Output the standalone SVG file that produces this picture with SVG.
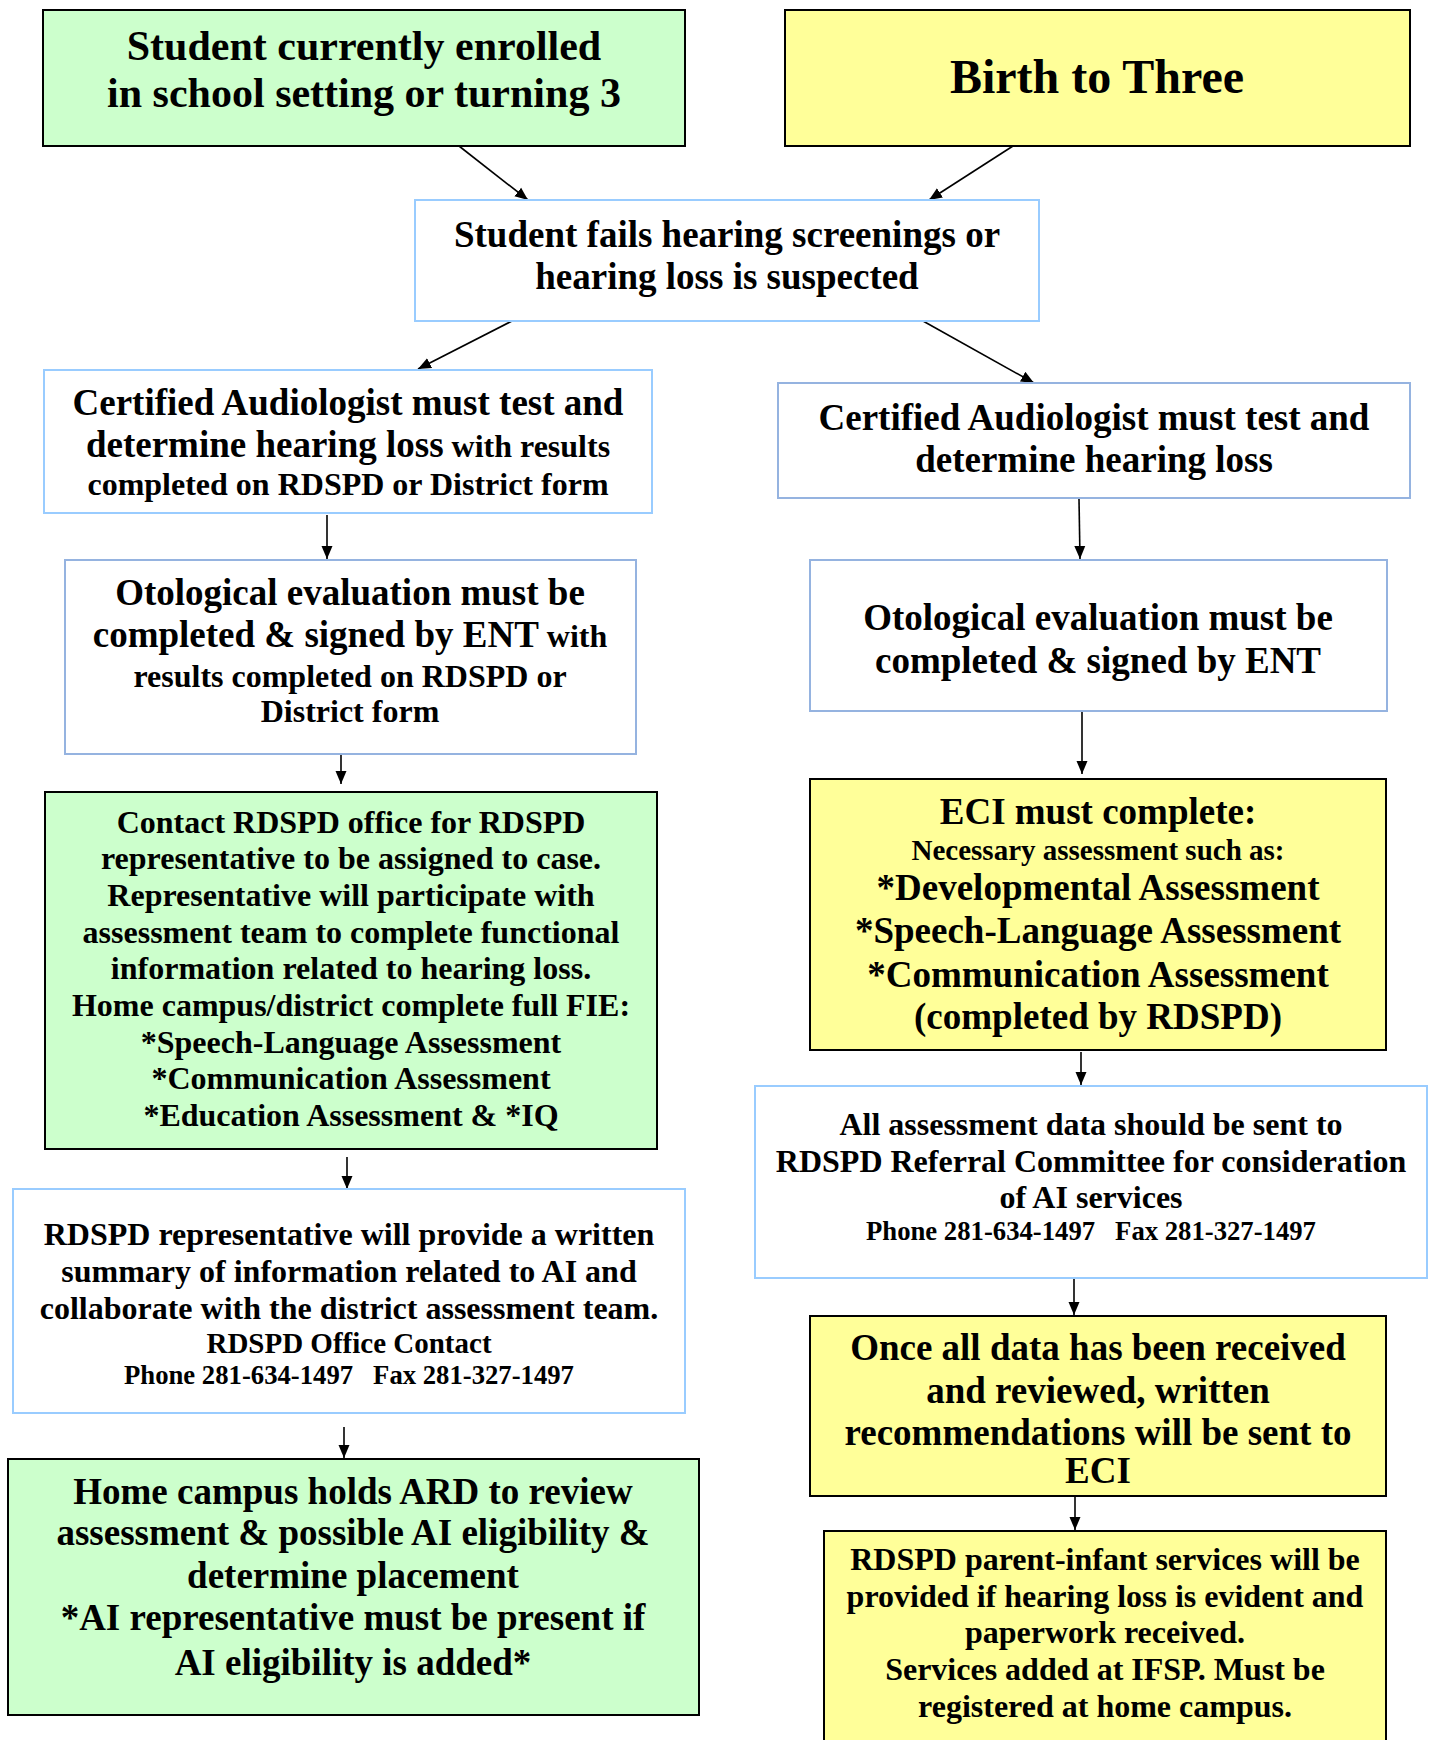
<svg xmlns="http://www.w3.org/2000/svg" width="1433" height="1740" viewBox="0 0 1433 1740">
<style>
  text { font-family: "Liberation Serif", "Times New Roman", serif; font-weight: bold; fill: #000; text-anchor: middle; }
  .green { fill: #ccffcc; stroke: #000; stroke-width: 2; }
  .yellow { fill: #ffff99; stroke: #000; stroke-width: 2; }
  .blue { fill: #fff; stroke: #99ccff; stroke-width: 2; }
  .blue2 { fill: #fff; stroke: #95b3e0; stroke-width: 2; }
  .f48 { font-size: 48px; }
  .f42 { font-size: 42px; }
  .f37 { font-size: 37px; }
  .f32 { font-size: 32px; }
  .f29 { font-size: 29px; }
  .f26 { font-size: 26.7px; }
  .conn { stroke: #000; stroke-width: 1.6; fill: none; marker-end: url(#arrow); }
</style>
<defs>
  <marker id="arrow" markerUnits="userSpaceOnUse" markerWidth="14" markerHeight="14" viewBox="0 0 14 14" refX="13" refY="7" orient="auto">
    <path d="M0,1.5 L13,7 L0,12.5 Z" fill="#000"/>
  </marker>
</defs>
<rect width="1433" height="1740" fill="#fff"/>

<g id="connectors">
  <path class="conn" d="M459,146 L528,200"/>
  <path class="conn" d="M1013,146 L929,200"/>
  <path class="conn" d="M512,321 L418,369"/>
  <path class="conn" d="M923,321 L1034,383"/>
  <path class="conn" d="M327,515 L327,559"/>
  <path class="conn" d="M1079,499 L1080,559"/>
  <path class="conn" d="M341,755 L341,784"/>
  <path class="conn" d="M1082,712 L1082,774"/>
  <path class="conn" d="M347,1157 L347,1189"/>
  <path class="conn" d="M1081,1052 L1081,1085"/>
  <path class="conn" d="M344,1427 L344,1458"/>
  <path class="conn" d="M1074,1278 L1074,1315"/>
  <path class="conn" d="M1075,1497 L1075,1530"/>
</g>

<g id="node-student-enrolled">
  <rect class="green" x="43" y="10" width="642" height="136"/>
  <text class="f42" x="364" y="60">Student currently enrolled</text>
  <text class="f42" x="364" y="107">in school setting or turning 3</text>
</g>

<g id="node-birth-to-three">
  <rect class="yellow" x="785" y="10" width="625" height="136"/>
  <text class="f48" x="1097" y="93">Birth to Three</text>
</g>

<g id="node-fails-screening">
  <rect class="blue" x="415" y="200" width="624" height="121"/>
  <text class="f37" x="727" y="247">Student fails hearing screenings or</text>
  <text class="f37" x="727" y="289">hearing loss is suspected</text>
</g>

<g id="node-audiologist-left">
  <rect class="blue" x="44" y="370" width="608" height="143"/>
  <text class="f37" x="348" y="415">Certified Audiologist must test and</text>
  <text class="f37" x="348" y="457">determine hearing loss<tspan class="f32"> with results</tspan></text>
  <text class="f32" x="348" y="495">completed on RDSPD or District form</text>
</g>

<g id="node-audiologist-right">
  <rect class="blue2" x="778" y="383" width="632" height="115"/>
  <text class="f37" x="1094" y="430">Certified Audiologist must test and</text>
  <text class="f37" x="1094" y="472">determine hearing loss</text>
</g>

<g id="node-otological-left">
  <rect class="blue2" x="65" y="560" width="571" height="194"/>
  <text class="f37" x="350" y="605">Otological evaluation must be</text>
  <text class="f37" x="350" y="647">completed &amp; signed by ENT<tspan class="f32"> with</tspan></text>
  <text class="f32" x="350" y="687">results completed on RDSPD or</text>
  <text class="f32" x="350" y="722">District form</text>
</g>

<g id="node-otological-right">
  <rect class="blue2" x="810" y="560" width="577" height="151"/>
  <text class="f37" x="1098" y="630">Otological evaluation must be</text>
  <text class="f37" x="1098" y="673">completed &amp; signed by ENT</text>
</g>

<g id="node-contact-rdspd">
  <rect class="green" x="45" y="792" width="612" height="357"/>
  <text class="f32" x="351" y="833">Contact RDSPD office for RDSPD</text>
  <text class="f32" x="351" y="869">representative to be assigned to case.</text>
  <text class="f32" x="351" y="906">Representative will participate with</text>
  <text class="f32" x="351" y="943">assessment team to complete functional</text>
  <text class="f32" x="351" y="979">information related to hearing loss.</text>
  <text class="f32" x="351" y="1016">Home campus/district complete full FIE:</text>
  <text class="f32" x="351" y="1053">*Speech-Language Assessment</text>
  <text class="f32" x="351" y="1089">*Communication Assessment</text>
  <text class="f32" x="351" y="1126">*Education Assessment &amp; *IQ</text>
</g>

<g id="node-eci-complete">
  <rect class="yellow" x="810" y="779" width="576" height="271"/>
  <text class="f37" x="1098" y="824">ECI must complete:</text>
  <text class="f29" x="1098" y="860">Necessary assessment such as:</text>
  <text class="f37" x="1098" y="900">*Developmental Assessment</text>
  <text class="f37" x="1098" y="943">*Speech-Language Assessment</text>
  <text class="f37" x="1098" y="987">*Communication Assessment</text>
  <text class="f37" x="1098" y="1029">(completed by RDSPD)</text>
</g>

<g id="node-all-assessment">
  <rect class="blue" x="755" y="1086" width="672" height="192"/>
  <text class="f32" x="1091" y="1135">All assessment data should be sent to</text>
  <text class="f32" x="1091" y="1172">RDSPD Referral Committee for consideration</text>
  <text class="f32" x="1091" y="1208">of AI services</text>
  <text class="f26" x="1091" y="1240" xml:space="preserve">Phone 281-634-1497   Fax 281-327-1497</text>
</g>

<g id="node-rdspd-representative">
  <rect class="blue" x="13" y="1189" width="672" height="224"/>
  <text class="f32" x="349" y="1245">RDSPD representative will provide a written</text>
  <text class="f32" x="349" y="1282">summary of information related to AI and</text>
  <text class="f32" x="349" y="1319">collaborate with the district assessment team.</text>
  <text class="f29" x="349" y="1353">RDSPD Office Contact</text>
  <text class="f26" x="349" y="1384" xml:space="preserve">Phone 281-634-1497   Fax 281-327-1497</text>
</g>

<g id="node-once-data-received">
  <rect class="yellow" x="810" y="1316" width="576" height="180"/>
  <text class="f37" x="1098" y="1360">Once all data has been received</text>
  <text class="f37" x="1098" y="1403">and reviewed, written</text>
  <text class="f37" x="1098" y="1445">recommendations will be sent to</text>
  <text class="f37" x="1098" y="1483">ECI</text>
</g>

<g id="node-home-campus-ard">
  <rect class="green" x="8" y="1459" width="691" height="256"/>
  <text class="f37" x="353" y="1504">Home campus holds ARD to review</text>
  <text class="f37" x="353" y="1545">assessment &amp; possible AI eligibility &amp;</text>
  <text class="f37" x="353" y="1588">determine placement</text>
  <text class="f37" x="353" y="1630">*AI representative must be present if</text>
  <text class="f37" x="353" y="1675">AI eligibility is added*</text>
</g>

<g id="node-parent-infant">
  <rect class="yellow" x="824" y="1531" width="562" height="240"/>
  <text class="f32" x="1105" y="1570">RDSPD parent-infant services will be</text>
  <text class="f32" x="1105" y="1607">provided if hearing loss is evident and</text>
  <text class="f32" x="1105" y="1643">paperwork received.</text>
  <text class="f32" x="1105" y="1680">Services added at IFSP. Must be</text>
  <text class="f32" x="1105" y="1717">registered at home campus.</text>
</g>
</svg>
